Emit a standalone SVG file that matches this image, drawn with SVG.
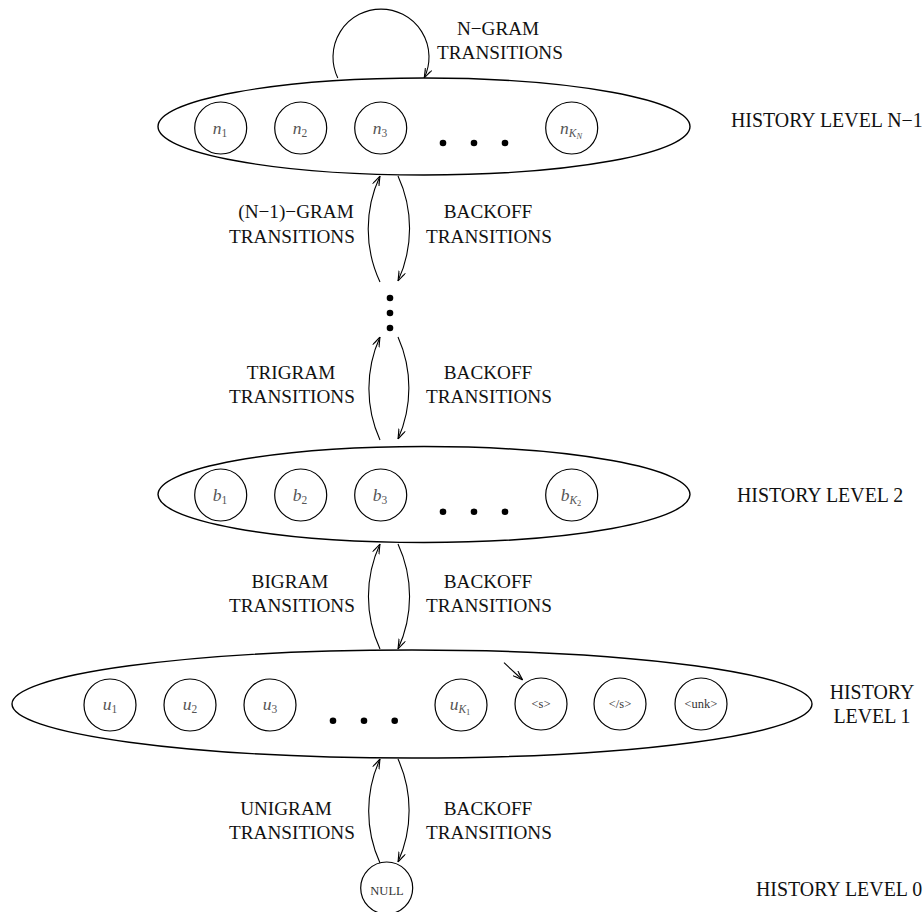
<svg xmlns="http://www.w3.org/2000/svg" width="924" height="912" viewBox="0 0 924 912">
<defs>
<marker id="arr" viewBox="0 0 10 8" refX="10" refY="4" markerWidth="10" markerHeight="8" markerUnits="userSpaceOnUse" orient="auto">
<path d="M0,0.5 L10,4 L0,7.5 M2,1.5 L10,4 L2,6.5" fill="none" stroke="#000" stroke-width="1"/>
</marker>
<style>
.lvl{fill:none;stroke:#000;stroke-width:1.4}
.nd{fill:#fff;stroke:#000;stroke-width:1.2}
.cn{fill:none;stroke:#000;stroke-width:1.1}
.dot{fill:#000}
.lab{font-family:"Liberation Serif","Times New Roman",serif;font-size:19.2px;fill:#111;text-anchor:middle}
.hist{font-family:"Liberation Serif","Times New Roman",serif;font-size:19.9px;fill:#111}
.m{font-family:"Liberation Serif","Times New Roman",serif;font-size:17.5px;font-style:italic;fill:#555;text-anchor:middle}
.sub{font-size:11.5px;font-style:normal}
.subi{font-size:11.5px;font-style:italic}
.ss{font-size:8.5px;font-style:italic}
.ssn{font-size:8.5px;font-style:normal}
.tk{font-family:"Liberation Serif","Times New Roman",serif;font-size:12.5px;fill:#333;text-anchor:middle}
</style>
</defs>
<rect width="924" height="912" fill="#fff"/>

<g id="level-n1">
<ellipse class="lvl" cx="424" cy="126.5" rx="266" ry="48.5"/>
<circle class="dot" cx="443" cy="143" r="3.3"/><circle class="dot" cx="474" cy="143" r="3.3"/><circle class="dot" cx="505" cy="143" r="3.3"/>
</g>
<g id="n1"><circle class="nd" cx="220.7" cy="128" r="26"/><text class="m" x="220" y="134">n<tspan class="sub" dy="3">1</tspan></text></g>
<g id="n2"><circle class="nd" cx="300.7" cy="128" r="26"/><text class="m" x="300" y="134">n<tspan class="sub" dy="3">2</tspan></text></g>
<g id="n3"><circle class="nd" cx="380.7" cy="128" r="26"/><text class="m" x="380" y="134">n<tspan class="sub" dy="3">3</tspan></text></g>
<g id="nKN"><circle class="nd" cx="571.7" cy="128" r="26"/><text class="m" x="571" y="134">n<tspan class="subi" dy="3">K</tspan><tspan class="ss" dy="2">N</tspan></text></g>

<g id="level-2">
<ellipse class="lvl" cx="424" cy="494.5" rx="266" ry="48"/>
<circle class="dot" cx="443" cy="511.7" r="3.3"/><circle class="dot" cx="474" cy="511.7" r="3.3"/><circle class="dot" cx="505" cy="511.7" r="3.3"/>
</g>
<g id="b1"><circle class="nd" cx="220.7" cy="495" r="26"/><text class="m" x="220" y="501">b<tspan class="sub" dy="3">1</tspan></text></g>
<g id="b2"><circle class="nd" cx="300.7" cy="495" r="26"/><text class="m" x="300" y="501">b<tspan class="sub" dy="3">2</tspan></text></g>
<g id="b3"><circle class="nd" cx="380.7" cy="495" r="26"/><text class="m" x="380" y="501">b<tspan class="sub" dy="3">3</tspan></text></g>
<g id="bK2"><circle class="nd" cx="571.7" cy="495" r="26"/><text class="m" x="571" y="501">b<tspan class="subi" dy="3">K</tspan><tspan class="ssn" dy="2">2</tspan></text></g>

<g id="level-1">
<ellipse class="lvl" cx="412" cy="704" rx="400" ry="54"/>
<circle class="dot" cx="333" cy="720.7" r="3.3"/><circle class="dot" cx="364" cy="720.7" r="3.3"/><circle class="dot" cx="394.7" cy="720.7" r="3.3"/>
</g>
<g id="u1"><circle class="nd" cx="110" cy="705" r="26"/><text class="m" x="110" y="710">u<tspan class="sub" dy="3">1</tspan></text></g>
<g id="u2"><circle class="nd" cx="190" cy="705" r="26"/><text class="m" x="190" y="710">u<tspan class="sub" dy="3">2</tspan></text></g>
<g id="u3"><circle class="nd" cx="270" cy="705" r="26"/><text class="m" x="270" y="710">u<tspan class="sub" dy="3">3</tspan></text></g>
<g id="uK1"><circle class="nd" cx="461" cy="705" r="26"/><text class="m" x="460" y="710">u<tspan class="subi" dy="3">K</tspan><tspan class="ssn" dy="2">1</tspan></text></g>
<g id="s-start"><circle class="nd" cx="541" cy="704" r="26"/><text class="tk" x="541" y="708">&lt;s&gt;</text></g>
<g id="s-end"><circle class="nd" cx="620" cy="704" r="26"/><text class="tk" x="620" y="708">&lt;/s&gt;</text></g>
<g id="unk"><circle class="nd" cx="701" cy="704" r="26"/><text class="tk" x="701" y="708">&lt;unk&gt;</text></g>

<g id="null"><circle class="nd" cx="386.7" cy="888" r="26"/><text class="tk" x="387" y="895" font-size="13px">NULL</text></g>

<g id="connectors">
<path class="cn" d="M337.8,78 A48,48 0 1,1 424.2,78" marker-end="url(#arr)"/>
<path class="cn" d="M380,282 A125,125 0 0,1 380,176" marker-end="url(#arr)"/>
<path class="cn" d="M398,176 A125,125 0 0,1 398,281" marker-end="url(#arr)"/>
<path class="cn" d="M380,440 A125,125 0 0,1 380,337" marker-end="url(#arr)"/>
<path class="cn" d="M398,337 A125,125 0 0,1 398,439" marker-end="url(#arr)"/>
<path class="cn" d="M380,649 A125,125 0 0,1 380,544" marker-end="url(#arr)"/>
<path class="cn" d="M398,544 A125,125 0 0,1 398,649" marker-end="url(#arr)"/>
<path class="cn" d="M380,863 A125,125 0 0,1 380,759" marker-end="url(#arr)"/>
<path class="cn" d="M398,759 A125,125 0 0,1 398,862" marker-end="url(#arr)"/>
<path class="cn" d="M504,662.7 L522.7,680" marker-end="url(#arr)"/>
</g>

<g id="vdots">
<circle class="dot" cx="390" cy="298" r="3.3"/><circle class="dot" cx="390" cy="313" r="3.3"/><circle class="dot" cx="390" cy="328" r="3.3"/>
</g>

<g id="labels">
<text class="lab" x="498" y="35">N−GRAM</text>
<text class="lab" x="500" y="59">TRANSITIONS</text>
<text class="lab" x="296" y="218">(N−1)−GRAM</text>
<text class="lab" x="292" y="243">TRANSITIONS</text>
<text class="lab" x="488" y="218">BACKOFF</text>
<text class="lab" x="489" y="243">TRANSITIONS</text>
<text class="lab" x="291" y="379">TRIGRAM</text>
<text class="lab" x="292" y="403">TRANSITIONS</text>
<text class="lab" x="488" y="379">BACKOFF</text>
<text class="lab" x="489" y="403">TRANSITIONS</text>
<text class="lab" x="290" y="588">BIGRAM</text>
<text class="lab" x="292" y="612">TRANSITIONS</text>
<text class="lab" x="488" y="588">BACKOFF</text>
<text class="lab" x="489" y="612">TRANSITIONS</text>
<text class="lab" x="286" y="815">UNIGRAM</text>
<text class="lab" x="292" y="839">TRANSITIONS</text>
<text class="lab" x="488" y="815">BACKOFF</text>
<text class="lab" x="489" y="839">TRANSITIONS</text>
<text class="hist" x="731" y="127">HISTORY LEVEL N−1</text>
<text class="hist" x="737" y="502">HISTORY LEVEL 2</text>
<text class="hist" x="872" y="699" text-anchor="middle">HISTORY</text>
<text class="hist" x="872" y="723" text-anchor="middle">LEVEL 1</text>
<text class="hist" x="756" y="896">HISTORY LEVEL 0</text>
</g>
</svg>
